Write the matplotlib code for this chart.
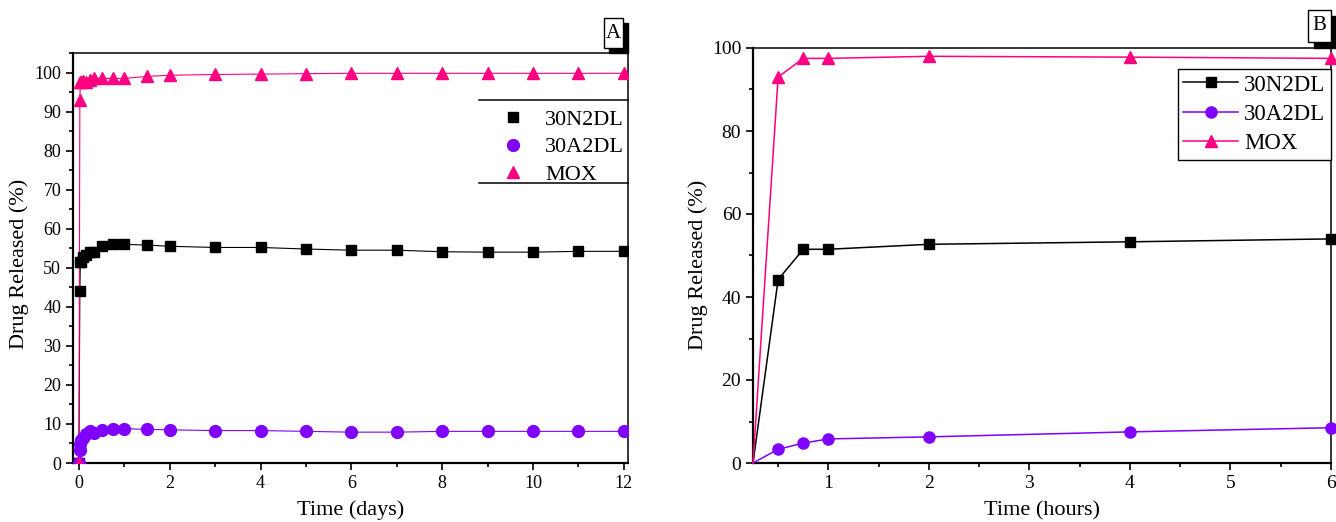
import matplotlib
matplotlib.use('Agg')
import matplotlib.pyplot as plt
from matplotlib.patches import Rectangle
from matplotlib.lines import Line2D
from matplotlib.ticker import MultipleLocator

plt.rcParams['font.family'] = ['Liberation Serif', 'DejaVu Serif']

# panel A, time in days
days = [0, 0.021, 0.031, 0.042, 0.083, 0.167, 0.25, 0.333, 0.5, 0.75, 1, 1.5,
        2, 3, 4, 5, 6, 7, 8, 9, 10, 11, 12]
n2dl_a = [0, 44, 51.5, 51.5, 52.7, 53.3, 54, 54, 55.5, 56, 56, 55.8,
          55.5, 55.2, 55.2, 54.8, 54.5, 54.5, 54.1, 54, 54, 54.2, 54.2]
a2dl_a = [0, 3.3, 4.8, 5.8, 6.3, 7.5, 8.3, 7.8, 8.5, 8.7, 8.8, 8.6,
          8.5, 8.3, 8.3, 8.1, 7.9, 7.9, 8.1, 8.1, 8.1, 8.1, 8.1]
mox_a = [0, 93, 97.5, 97.5, 97.8, 97.6, 98, 98.5, 98.5, 98.5, 98.5, 99,
         99.3, 99.5, 99.6, 99.7, 99.8, 99.8, 99.8, 99.8, 99.8, 99.8, 99.8]

# panel B, time in hours
hours = [0.25, 0.5, 0.75, 1, 2, 4, 6]
n2dl_b = [0, 44.2, 51.5, 51.5, 52.7, 53.3, 54]
a2dl_b = [0, 3.3, 4.8, 5.8, 6.3, 7.5, 8.5]
mox_b = [0, 93, 97.5, 97.5, 98, 97.8, 97.5]

labels = ['30N2DL', '30A2DL', 'MOX']
colors = ['#000000', '#8000ff', '#ff0080']
markers = ['s', 'o', '^']
msizes = [7.5, 8.5, 9]

W, H = 1336, 522
fig = plt.figure(figsize=(W / 100, H / 100), dpi=100)
fig.patch.set_facecolor('white')

def px_ax(l, r, t, b):
    return fig.add_axes([l / W, (H - b) / H, (r - l) / W, (b - t) / H])

def style(ax, size):
    for s in ['left', 'bottom']:
        ax.spines[s].set_linewidth(1.6)
    for s in ['top', 'right']:
        ax.spines[s].set_linewidth(1.1)
    ax.tick_params(which='both', direction='out', top=False, right=False,
                   labelsize=size, width=1.2)
    ax.tick_params(which='major', length=5)
    ax.tick_params(which='minor', length=3)

# ---- panel A
ax1 = px_ax(73, 628, 53, 463)
for y, lab, c, m, ms in zip([n2dl_a, a2dl_a, mox_a], labels, colors, markers, msizes):
    ax1.plot(days, y, color=c, lw=0.8, zorder=2)
    ax1.plot(days, y, linestyle='none', marker=m, ms=ms, color=c, label=lab,
             zorder=3)
ax1.set_xlim(-0.13, 12.09)
ax1.set_ylim(0, 105)
ax1.xaxis.set_major_locator(MultipleLocator(2))
ax1.xaxis.set_minor_locator(MultipleLocator(1))
ax1.yaxis.set_major_locator(MultipleLocator(10))
ax1.yaxis.set_minor_locator(MultipleLocator(5))
style(ax1, 13)
ax1.set_xlabel('Time (days)', fontsize=16, labelpad=6)
ax1.set_ylabel('Drug Released (%)', fontsize=16)
ax1.yaxis.set_label_coords(-0.08, 0.485)
ax1.legend(loc='upper left', bbox_to_anchor=(0.765, 0.863), frameon=False,
           fontsize=16, handlelength=1.4, handletextpad=0.75,
           labelspacing=0.32, borderpad=0, borderaxespad=0)
for yy in [0.885, 0.683]:
    ax1.add_line(Line2D([0.732, 1.0], [yy, yy], transform=ax1.transAxes,
                        color='black', lw=1.1, clip_on=False))

# ---- panel B
ax2 = px_ax(753, 1331, 48, 463)
for y, lab, c, m, ms in zip([n2dl_b, a2dl_b, mox_b], labels, colors, markers, msizes):
    ax2.plot(hours, y, color=c, lw=1.1, marker=m, ms=ms - 0.5, label=lab,
             markevery=slice(1, None), clip_on=False, zorder=3)
ax2.set_xlim(0.25, 6)
ax2.set_ylim(0, 100)
ax2.xaxis.set_major_locator(MultipleLocator(1))
ax2.xaxis.set_minor_locator(MultipleLocator(0.5))
ax2.yaxis.set_major_locator(MultipleLocator(20))
ax2.yaxis.set_minor_locator(MultipleLocator(10))
style(ax2, 14)
ax2.set_xlabel('Time (hours)', fontsize=16, labelpad=7)
ax2.set_ylabel('Drug Released (%)', fontsize=16)
ax2.yaxis.set_label_coords(-0.078, 0.477)
ax2.legend(loc='upper right', bbox_to_anchor=(1.0, 0.95), fontsize=16.5,
           fancybox=False, edgecolor='black', framealpha=1, handlelength=2.4,
           handletextpad=0.25, labelspacing=0.36, borderpad=0.25,
           borderaxespad=0).get_frame().set_linewidth(1.0)

# ---- boxed panel letters with shadow
def letter(txt, l, t, r, b, off=5):
    fig.patches.append(Rectangle(((l + off) / W, (H - b - off) / H), (r - l) / W,
                                 (b - t) / H, transform=fig.transFigure,
                                 facecolor='black', edgecolor='black', zorder=5))
    fig.patches.append(Rectangle((l / W, (H - b) / H), (r - l) / W, (b - t) / H,
                                 transform=fig.transFigure, facecolor='white',
                                 edgecolor='black', lw=1, zorder=6))
    fig.text((l + r) / 2 / W, (H - (t + b) / 2) / H, txt, ha='center',
             va='center', fontsize=15, zorder=7)

letter('A', 604, 18, 623, 48)
letter('B', 1308, 10, 1331, 42, off=6)

fig.savefig('out.png', dpi=100)
